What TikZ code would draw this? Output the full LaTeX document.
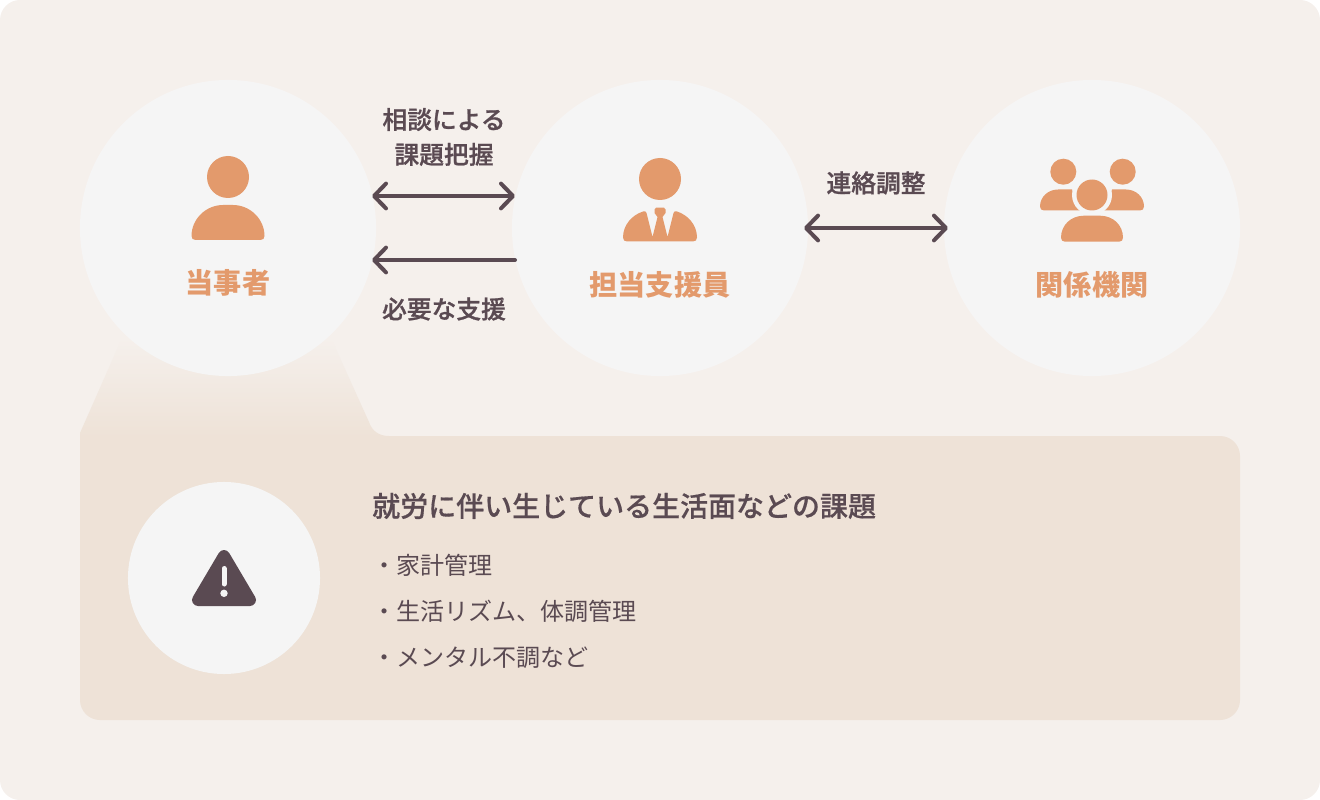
\documentclass[tikz,border=0pt]{standalone}
\usepackage{fontspec}
\setmainfont{Noto Sans CJK JP}
\newfontfamily\mediumfont[FakeBold=0.4]{Noto Sans CJK JP Medium}
\newfontfamily\heavyfont[FakeBold=0.9]{Noto Sans CJK JP Medium}
\usetikzlibrary{arrows.meta}

\definecolor{pagecol}{HTML}{F5F0EC}
\definecolor{panelcol}{HTML}{EEE2D7}
\definecolor{bubblecol}{HTML}{F5F5F5}
\definecolor{iconcol}{HTML}{E39A6C}
\definecolor{inkcol}{HTML}{5A4A52}

\tikzset{
  bubble/.style={circle,fill=bubblecol,outer sep=0pt,inner sep=0pt,minimum size=7.4cm},
  rolename/.style={text=iconcol,font=\fontsize{20}{24}\selectfont\bfseries},
  flowname/.style={text=inkcol,align=center,font=\fontsize{17.6}{24.8}\selectfont\heavyfont},
  listitem/.style={anchor=west,text=inkcol,inner sep=0pt,font=\fontsize{17.1}{24}\selectfont},
  flow/.style={draw=inkcol,line width=0.1cm,line cap=round},
  tip/.tip={Straight Barb[round,length=0.3cm,width=0.62cm,line width=0.1cm]}
}

\begin{document}
\begin{tikzpicture}[x=0.025cm,y=-0.025cm]
  \useasboundingbox (0,0) rectangle (1320,800);

  % Page
  \fill[pagecol,rounded corners=0.5cm] (0,0) rectangle (1320,800);

  % Callout below the first circle
  \shade[top color=pagecol,bottom color=panelcol] (80,437) -- (80,433) -- (122,338) -- (331,338)
  -- (369,422) .. controls (372,431) and (379,436) .. (389,436) -- (389,437) -- cycle;
  \fill[panelcol] (80,436) [rounded corners=0.5cm] -- (1240,436) -- (1240,720) -- (80,720)
  -- (80,600) [sharp corners] -- cycle;

  % Circles
  \node[bubble] (client) at (228,228) {};
  \node[bubble] (staff) at (660,228) {};
  \node[bubble] (agency) at (1092,228) {};
  \node[bubble,minimum size=4.8cm] (warning) at (224,578) {};

  % Arrow ends on the circle edges
  \coordinate (clientup) at (372,196);
  \coordinate (staffup) at (515,196);
  \coordinate (clientdown) at (372,260);
  \coordinate (staffdown) at (515,260);

  % Arrows
  \draw[flow,tip-tip] (clientup) -- (staffup);
  \draw[flow,tip-] (clientdown) -- (staffdown);
  \draw[flow,tip-tip,shorten <=-0.1cm,shorten >=-0.1cm] (staff.east) -- (agency.west);

  % Client icon
  \fill[iconcol] (228,177) circle (21);
  \fill[iconcol] (195.5,240) -- (260.5,240) .. controls (263,240) and (264.5,238.5) .. (264.5,236)
  .. controls (264.5,219) and (250,205) .. (233,205) -- (223,205)
  .. controls (206,205) and (191.5,219) .. (191.5,236)
  .. controls (191.5,238.5) and (193,240) .. (195.5,240) -- cycle;

  % Staff icon
  \fill[iconcol] (660,179) circle (21);
  \fill[iconcol] (627,241.5) .. controls (624.5,241.5) and (623,240) .. (623,237.5)
  .. controls (623,225) and (632,215) .. (643,211.5) .. controls (645,211) and (646,211.5) .. (646.5,213)
  -- (652.5,237) -- (657.5,217) -- (654.5,213) -- (654.5,209.5) .. controls (654.5,208.5) and (655,207.7) .. (656,207.7)
  -- (664,207.7) .. controls (665,207.7) and (665.5,208.5) .. (665.5,209.5) -- (665.5,213) -- (662.5,217)
  -- (667.5,237) -- (673.5,213) .. controls (674,211.5) and (675,211) .. (677,211.5)
  .. controls (688,215) and (697,225) .. (697,237.5) .. controls (697,240) and (695.5,241.5) .. (693,241.5) -- cycle;

  % Agency icon
  \fill[iconcol] (1063.3,171.7) circle (13) (1122.7,171.7) circle (13);
  \fill[iconcol] (1044,210.5) .. controls (1041.5,210.5) and (1040,209) .. (1040,206.5)
  .. controls (1040,197) and (1048,189.5) .. (1058,189.5) -- (1072,189.5) -- (1080,210.5) -- cycle;
  \fill[iconcol] (1140,210.5) .. controls (1142.5,210.5) and (1144,209) .. (1144,206.5)
  .. controls (1144,197) and (1136,189.5) .. (1126,189.5) -- (1112,189.5) -- (1104,210.5) -- cycle;
  \fill[bubblecol] (1092,195) circle (20);
  \fill[iconcol] (1092,195) circle (15.5);
  \fill[iconcol] (1065,241.7) -- (1119,241.7) .. controls (1121.5,241.7) and (1123,240.2) .. (1123,237.7)
  .. controls (1123,225) and (1113,215.7) .. (1100,215.7) -- (1084,215.7)
  .. controls (1071,215.7) and (1061,225) .. (1061,237.7)
  .. controls (1061,240.2) and (1062.5,241.7) .. (1065,241.7) -- cycle;

  % Warning icon
  \filldraw[inkcol,line width=0.3cm,line join=round] (224,556) -- (250,600) -- (198,600) -- cycle;
  \draw[bubblecol,line width=0.125cm,line cap=round] (224,568.5) -- (224,584);
  \fill[bubblecol] (224,593.3) circle (3.7);

  % Labels
  \node[rolename] (clientname) at (228,283) {当事者};
  \node[rolename] (staffname) at (660,285) {担当支援員};
  \node[rolename] (agencyname) at (1092,285) {関係機関};
  \node[flowname] (consult) at (444,137) {相談による\\課題把握};
  \node[flowname] (support) at (444,309) {必要な支援};
  \node[flowname] (liaison) at (876,183) {連絡調整};

  % Issues
  \node[listitem,font=\fontsize{19.9}{24}\selectfont\mediumfont] (issuetitle) at (372,506) {就労に伴い生じている生活面などの課題};
  \node[listitem] (issuea) at (372,565) {・家計管理};
  \node[listitem] (issueb) at (372,611) {・生活リズム、体調管理};
  \node[listitem] (issuec) at (372,657.5) {・メンタル不調など};
\end{tikzpicture}
\end{document}
